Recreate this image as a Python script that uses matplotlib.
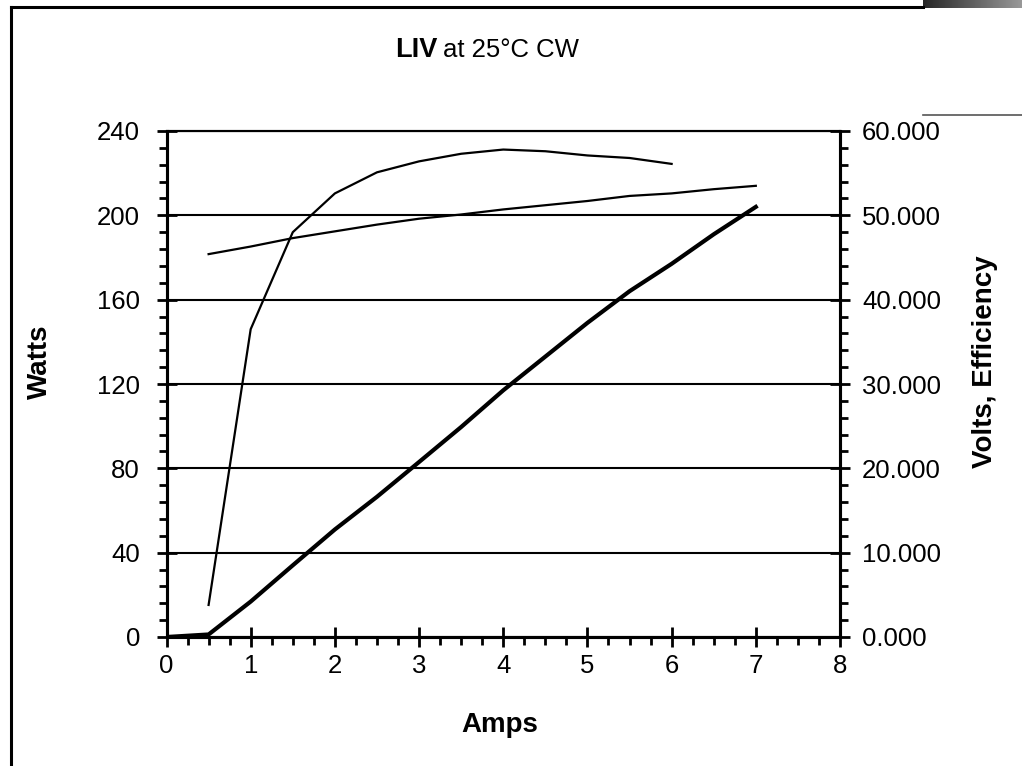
import numpy as np
import matplotlib.pyplot as plt
from matplotlib.lines import Line2D
from matplotlib.ticker import MultipleLocator, FormatStrFormatter

plt.rcParams['font.family'] = ['Liberation Sans', 'DejaVu Sans']

# current (A) and measured values
amps_power = [0, 0.5, 1, 1.5, 2, 2.5, 3, 3.5, 4, 4.5, 5, 5.5, 6, 6.5, 7]
watts = [0, 1.2, 16.8, 34, 51, 66.5, 83, 99.6, 117, 133, 149, 164, 177, 191, 204]

amps_eff = [0.5, 1, 1.5, 2, 2.5, 3, 3.5, 4, 4.5, 5, 5.5, 6]
efficiency = [3.8, 36.5, 48.0, 52.6, 55.1, 56.4, 57.3, 57.8, 57.6, 57.1, 56.8, 56.1]

amps_volt = [0.5, 1, 1.5, 2, 2.5, 3, 3.5, 4, 4.5, 5, 5.5, 6, 6.5, 7]
volts = [45.4, 46.3, 47.3, 48.1, 48.9, 49.6, 50.1, 50.7, 51.2, 51.7, 52.3, 52.6, 53.1, 53.5]

FS = 18.5
LFS = 20
W, H = 1022, 766

fig = plt.figure(figsize=(W / 100, H / 100), dpi=100)
ax = fig.add_axes([166.5 / W, 1 - 637 / H, (840 - 166.5) / W, (637 - 131) / H])
ax2 = ax.twinx()

ax.plot(amps_power, watts, color='black', lw=3.0, solid_joinstyle='miter', zorder=3)
ax2.plot(amps_eff, efficiency, color='black', lw=1.6, zorder=3)
ax2.plot(amps_volt, volts, color='black', lw=1.6, zorder=3)

ax.set_xlim(0, 8)
ax.set_ylim(0, 240)
ax2.set_ylim(0, 60)

ax.xaxis.set_major_locator(MultipleLocator(1))
ax.xaxis.set_minor_locator(MultipleLocator(0.25))
ax.yaxis.set_major_locator(MultipleLocator(40))
ax.yaxis.set_minor_locator(MultipleLocator(8))
ax2.yaxis.set_major_locator(MultipleLocator(10))
ax2.yaxis.set_minor_locator(MultipleLocator(2))
ax2.yaxis.set_major_formatter(FormatStrFormatter('%.3f'))

ax.yaxis.grid(True, which='major', color='black', lw=1.5)
ax.set_axisbelow(True)

for a in (ax, ax2):
    for s in a.spines.values():
        s.set_linewidth(2.2)
    a.spines['top'].set_linewidth(1.5)

ax.tick_params(axis='x', which='major', direction='inout', length=14, width=2, pad=5, labelsize=FS)
ax.tick_params(axis='x', which='minor', direction='out', length=6, width=2)
ax.tick_params(axis='y', which='major', direction='inout', length=14, width=2, pad=12, labelsize=FS)
ax.tick_params(axis='y', which='minor', direction='out', length=6, width=2)
ax2.tick_params(axis='y', which='major', direction='inout', length=14, width=2, pad=9, labelsize=FS)
ax2.tick_params(axis='y', which='minor', direction='out', length=6, width=2)

fig.text(500 / W, 1 - 725 / H, 'Amps', fontsize=LFS, fontweight='bold', ha='center', va='center')
fig.text(40 / W, 1 - 362 / H, 'Watts', fontsize=LFS, fontweight='bold', rotation=90, ha='center', va='center')
fig.text(985 / W, 1 - 362 / H, 'Volts, Efficiency', fontsize=LFS, fontweight='bold', rotation=90,
         ha='center', va='center')

fig.text(395 / W, 1 - 57 / H, 'LIV', fontsize=19.5, fontweight='bold', ha='left', va='baseline')
fig.text(443 / W, 1 - 57 / H, 'at 25°C CW', fontsize=FS, ha='left', va='baseline')

# page frame
fig.add_artist(Line2D([11 / W, 11 / W], [0, 1 - 7 / H], transform=fig.transFigure, color='black', lw=2.2))
fig.add_artist(Line2D([11 / W, 923 / W], [1 - 7 / H, 1 - 7 / H], transform=fig.transFigure, color='black', lw=2.2))
fig.add_artist(Line2D([923 / W, 1], [1 - 115 / H, 1 - 115 / H], transform=fig.transFigure, color='#555555', lw=1.2))
corner = fig.add_axes([923 / W, 1 - 8 / H, 1 - 923 / W, 8 / H])
corner.imshow(np.linspace(0.15, 0.6, 100).reshape(1, -1), cmap='gray', vmin=0, vmax=1, aspect='auto')
corner.set_axis_off()

fig.savefig('out.png', dpi=100)
